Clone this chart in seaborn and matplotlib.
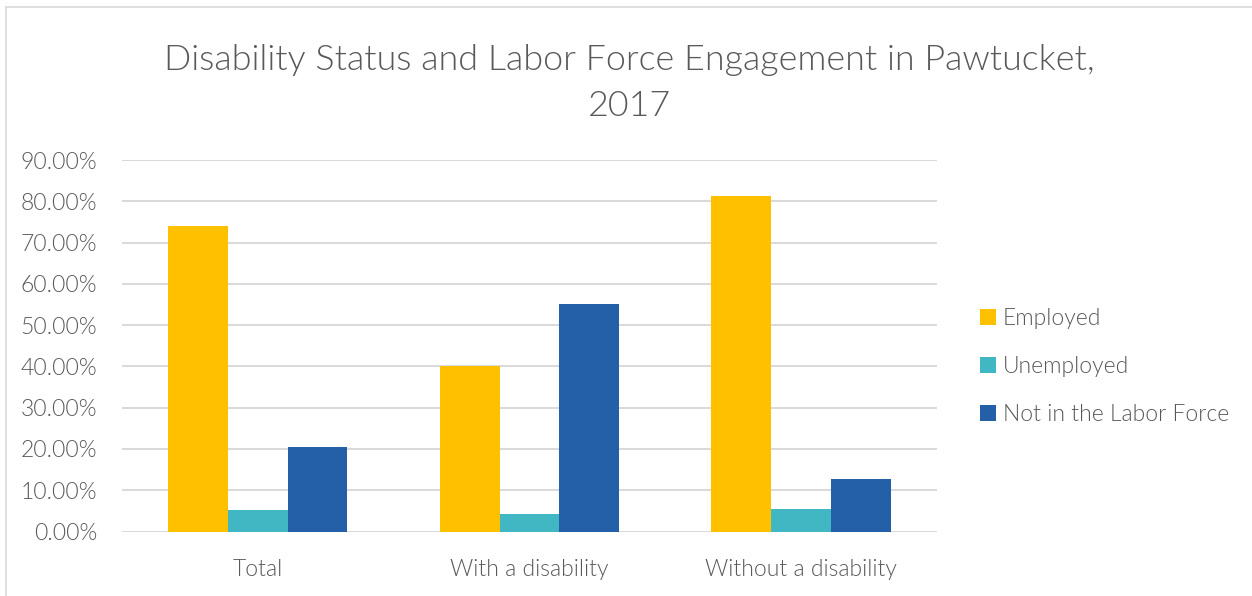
import pandas as pd
import matplotlib.pyplot as plt
import seaborn as sns
from matplotlib.ticker import PercentFormatter
from matplotlib.patches import Rectangle


# Chart data (shares)
categories = ["Total", "With a disability", "Without a disability"]
statuses = ["Employed", "Unemployed", "Not in the Labor Force"]
employed = [0.740, 0.402, 0.814]
unemployed = [0.053, 0.043, 0.054]
not_in_labor_force = [0.204, 0.552, 0.128]
status_colors = ["#FFC000", "#42B7C4", "#2360A8"]

df = pd.DataFrame({
    "Category": categories * 3,
    "Status": [statuses[0]] * 3 + [statuses[1]] * 3 + [statuses[2]] * 3,
    "Share": employed + unemployed + not_in_labor_force,
})


# Plot aesthetics
sns.set_theme(style="white")
plt.rcParams["font.family"] = ["Lato", "DejaVu Sans"]
text_gray = "#595959"
grid_gray = "#D9D9D9"
label_size = 16.5
thin = 300  # Lato Light

fig = plt.figure(figsize=(12.52, 5.96), dpi=100)
ax = fig.add_axes([0.0974, 0.1082, 0.651, 0.6233])

sns.barplot(
    data=df,
    x="Category",
    y="Share",
    hue="Status",
    hue_order=statuses,
    palette=status_colors,
    width=0.66,
    saturation=1,
    errorbar=None,
    linewidth=0,
    ax=ax,
    zorder=3,
)

ax.set_ylim(0, 0.9)
ax.set_yticks([i / 10 for i in range(10)])
ax.yaxis.set_major_formatter(PercentFormatter(xmax=1, decimals=2))
ax.grid(axis="y", color=grid_gray, linewidth=1.4, zorder=0)
ax.set_axisbelow(True)
sns.despine(ax=ax, left=True, bottom=True)

ax.set_xlabel("")
ax.set_ylabel("")
ax.tick_params(axis="both", length=0, labelsize=label_size, labelcolor=text_gray)
ax.tick_params(axis="y", pad=18)
ax.tick_params(axis="x", pad=20)
for lbl in ax.get_xticklabels() + ax.get_yticklabels():
    lbl.set_fontweight(thin)

# Legend on the right
handles, labels = ax.get_legend_handles_labels()
ax.legend_.remove()
leg = fig.legend(
    handles, labels,
    loc="center left",
    bbox_to_anchor=(0.766, 0.385),
    frameon=False,
    fontsize=label_size,
    handlelength=0.7,
    handleheight=0.7,
    handletextpad=0.3,
    labelspacing=1.17,
)
for t in leg.get_texts():
    t.set_color(text_gray)
    t.set_fontweight(thin)

# Title
fig.text(
    0.503, 0.861,
    "Disability Status and Labor Force Engagement in Pawtucket,\n2017",
    ha="center", va="center",
    fontsize=25.8, color=text_gray, fontweight=thin,
    linespacing=1.52,
)

# Chart frame (the crop shows only its top and left edges)
fig.patches.append(Rectangle(
    (6 / 1252, -0.1), 1.2, 1 - 7 / 596 + 0.1,
    transform=fig.transFigure, fill=False,
    edgecolor=grid_gray, linewidth=1.2,
))

plt.savefig("out.png", dpi=100)
